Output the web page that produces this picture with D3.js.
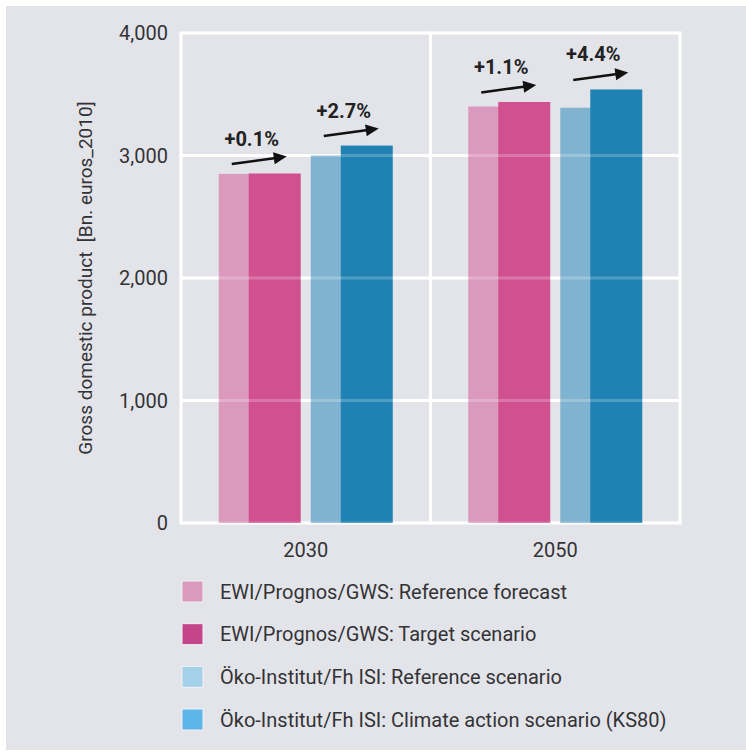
<!DOCTYPE html>
<html>
<head>
<meta charset="utf-8">
<script src="https://cdn.jsdelivr.net/npm/d3@7"></script>
<style>
  html, body { margin: 0; padding: 0; background: #ffffff; }
  svg { display: block; }
  text { font-family: Roboto, "Noto Sans", sans-serif; fill: #333336; }
</style>
</head>
<body>
<svg id="chart" width="746" height="753"></svg>
<script>
// ---- data ----
const categories = ["2030", "2050"];
const sources = ["EWI/Prognos/GWS", "Öko-Institut/Fh ISI"];
const ewiReference = [2850, 3400];
const ewiTarget = [2853, 3437];
const okoReference = [3000, 3390];
const okoTarget = [3081, 3539];
const ewiChange = ["+0.1%", "+1.1%"];
const okoChange = ["+2.7%", "+4.4%"];
const yTicks = [0, 1000, 2000, 3000, 4000];
const yTitle = "Gross domestic product  [Bn. euros_2010]";
const legendLabels = [
  "EWI/Prognos/GWS: Reference forecast",
  "EWI/Prognos/GWS: Target scenario",
  "Öko-Institut/Fh ISI: Reference scenario",
  "Öko-Institut/Fh ISI: Climate action scenario (KS80)"
];

// ---- styles ----
const barColors = { ref: ["#db9abd", "#80b3d0"], tgt: ["#d05090", "#1f82b3"] };
const legendColors = ["#d99abd", "#c4458a", "#a5d0ea", "#5db6e8"];

const svg = d3.select("#chart");
svg.append("rect").attr("x", 6).attr("y", 6).attr("width", 740).attr("height", 744).attr("fill", "#e3e4e9");

const plot = { left: 181, right: 680, top: 33, bottom: 523 };
const y = d3.scaleLinear().domain([0, 4000]).range([plot.bottom, plot.top]);
const x = d3.scaleBand().domain(categories).range([plot.left, plot.right]).padding(0);
const xs = d3.scaleBand().domain(sources).range([0, x.bandwidth()]).paddingInner(0.109).paddingOuter(0.41);
const barW = xs.bandwidth() * 52 / 82;

// grid (white)
function drawGrid(g, op) {
  g.selectAll("line.h").data(yTicks).join("line").attr("class", "h")
    .attr("x1", plot.left).attr("x2", plot.right)
    .attr("y1", d => y(d)).attr("y2", d => y(d))
    .attr("stroke", "#ffffff").attr("stroke-width", 3).attr("opacity", op);
  g.selectAll("line.v").data([plot.left, (plot.left + plot.right) / 2, plot.right]).join("line").attr("class", "v")
    .attr("x1", d => d).attr("x2", d => d)
    .attr("y1", plot.top - 1.5).attr("y2", plot.bottom + 1.5)
    .attr("stroke", "#ffffff").attr("stroke-width", 3).attr("opacity", op);
}
drawGrid(svg.append("g"), 1);

// bars
const rows = [];
categories.forEach((c, i) => {
  rows.push({ cat: c, src: sources[0], ref: ewiReference[i], tgt: ewiTarget[i], change: ewiChange[i], k: 0 });
  rows.push({ cat: c, src: sources[1], ref: okoReference[i], tgt: okoTarget[i], change: okoChange[i], k: 1 });
});
const bars = svg.append("g");
rows.forEach(r => {
  const x0 = x(r.cat) + xs(r.src);
  bars.append("rect").attr("x", x0).attr("width", barW)
    .attr("y", y(r.ref)).attr("height", y(0) - y(r.ref)).attr("fill", barColors.ref[r.k]);
  bars.append("rect").attr("x", x0 + xs.bandwidth() - barW).attr("width", barW)
    .attr("y", y(r.tgt)).attr("height", y(0) - y(r.tgt)).attr("fill", barColors.tgt[r.k]);
});
drawGrid(svg.append("g"), 0.22);

// arrows + change labels
const ann = svg.append("g");
rows.forEach(r => {
  const x0 = x(r.cat) + xs(r.src);
  const yt = y(r.tgt);
  const xa = x0 + 13, ya = yt - 9.5, xb = x0 + 68, yb = yt - 17;
  const ang = Math.atan2(yb - ya, xb - xa);
  const hl = 13, hw = 6;
  const bx = xb - hl * Math.cos(ang), by = yb - hl * Math.sin(ang);
  ann.append("line").attr("x1", xa).attr("y1", ya).attr("x2", bx + 2 * Math.cos(ang)).attr("y2", by + 2 * Math.sin(ang))
    .attr("stroke", "#111").attr("stroke-width", 2.6);
  ann.append("path")
    .attr("d", `M${xb},${yb} L${bx - hw * Math.sin(ang)},${by + hw * Math.cos(ang)} L${bx + hw * Math.sin(ang)},${by - hw * Math.cos(ang)} Z`)
    .attr("fill", "#111");
  ann.append("text").attr("x", x0 + 33).attr("y", yt - 28).attr("text-anchor", "middle")
    .attr("font-size", 20).attr("font-weight", 700).style("fill", "#222").text(r.change);
});

// y axis labels
svg.append("g").selectAll("text").data(yTicks).join("text")
  .attr("x", 168).attr("y", d => y(d)).attr("dy", "0.35em").attr("text-anchor", "end")
  .attr("font-size", 20).text(d => d3.format(",")(d));

// x labels
svg.append("g").selectAll("text").data(categories).join("text")
  .attr("x", d => x(d) + x.bandwidth() / 2).attr("y", 550).attr("dy", "0.35em").attr("text-anchor", "middle")
  .attr("font-size", 20).text(d => d);

// y title
svg.append("text").attr("transform", `translate(85,${(plot.top + plot.bottom) / 2}) rotate(-90)`)
  .attr("dy", "0.35em").attr("text-anchor", "middle").attr("font-size", 19).style("white-space", "pre")
  .text(yTitle);

// legend
const ly = d3.scalePoint().domain(legendLabels).range([591.5, 719.5]);
const lg = svg.append("g").selectAll("g").data(legendLabels).join("g")
  .attr("transform", d => `translate(182,${ly(d)})`);
lg.append("rect").attr("x", 0).attr("y", -10.5).attr("width", 21).attr("height", 21)
  .attr("fill", (d, i) => legendColors[i]).attr("stroke", "#f2f2f4").attr("stroke-width", 1);
lg.append("text").attr("x", 38).attr("dy", "0.35em").attr("font-size", 20).text(d => d);
</script>
</body>
</html>
